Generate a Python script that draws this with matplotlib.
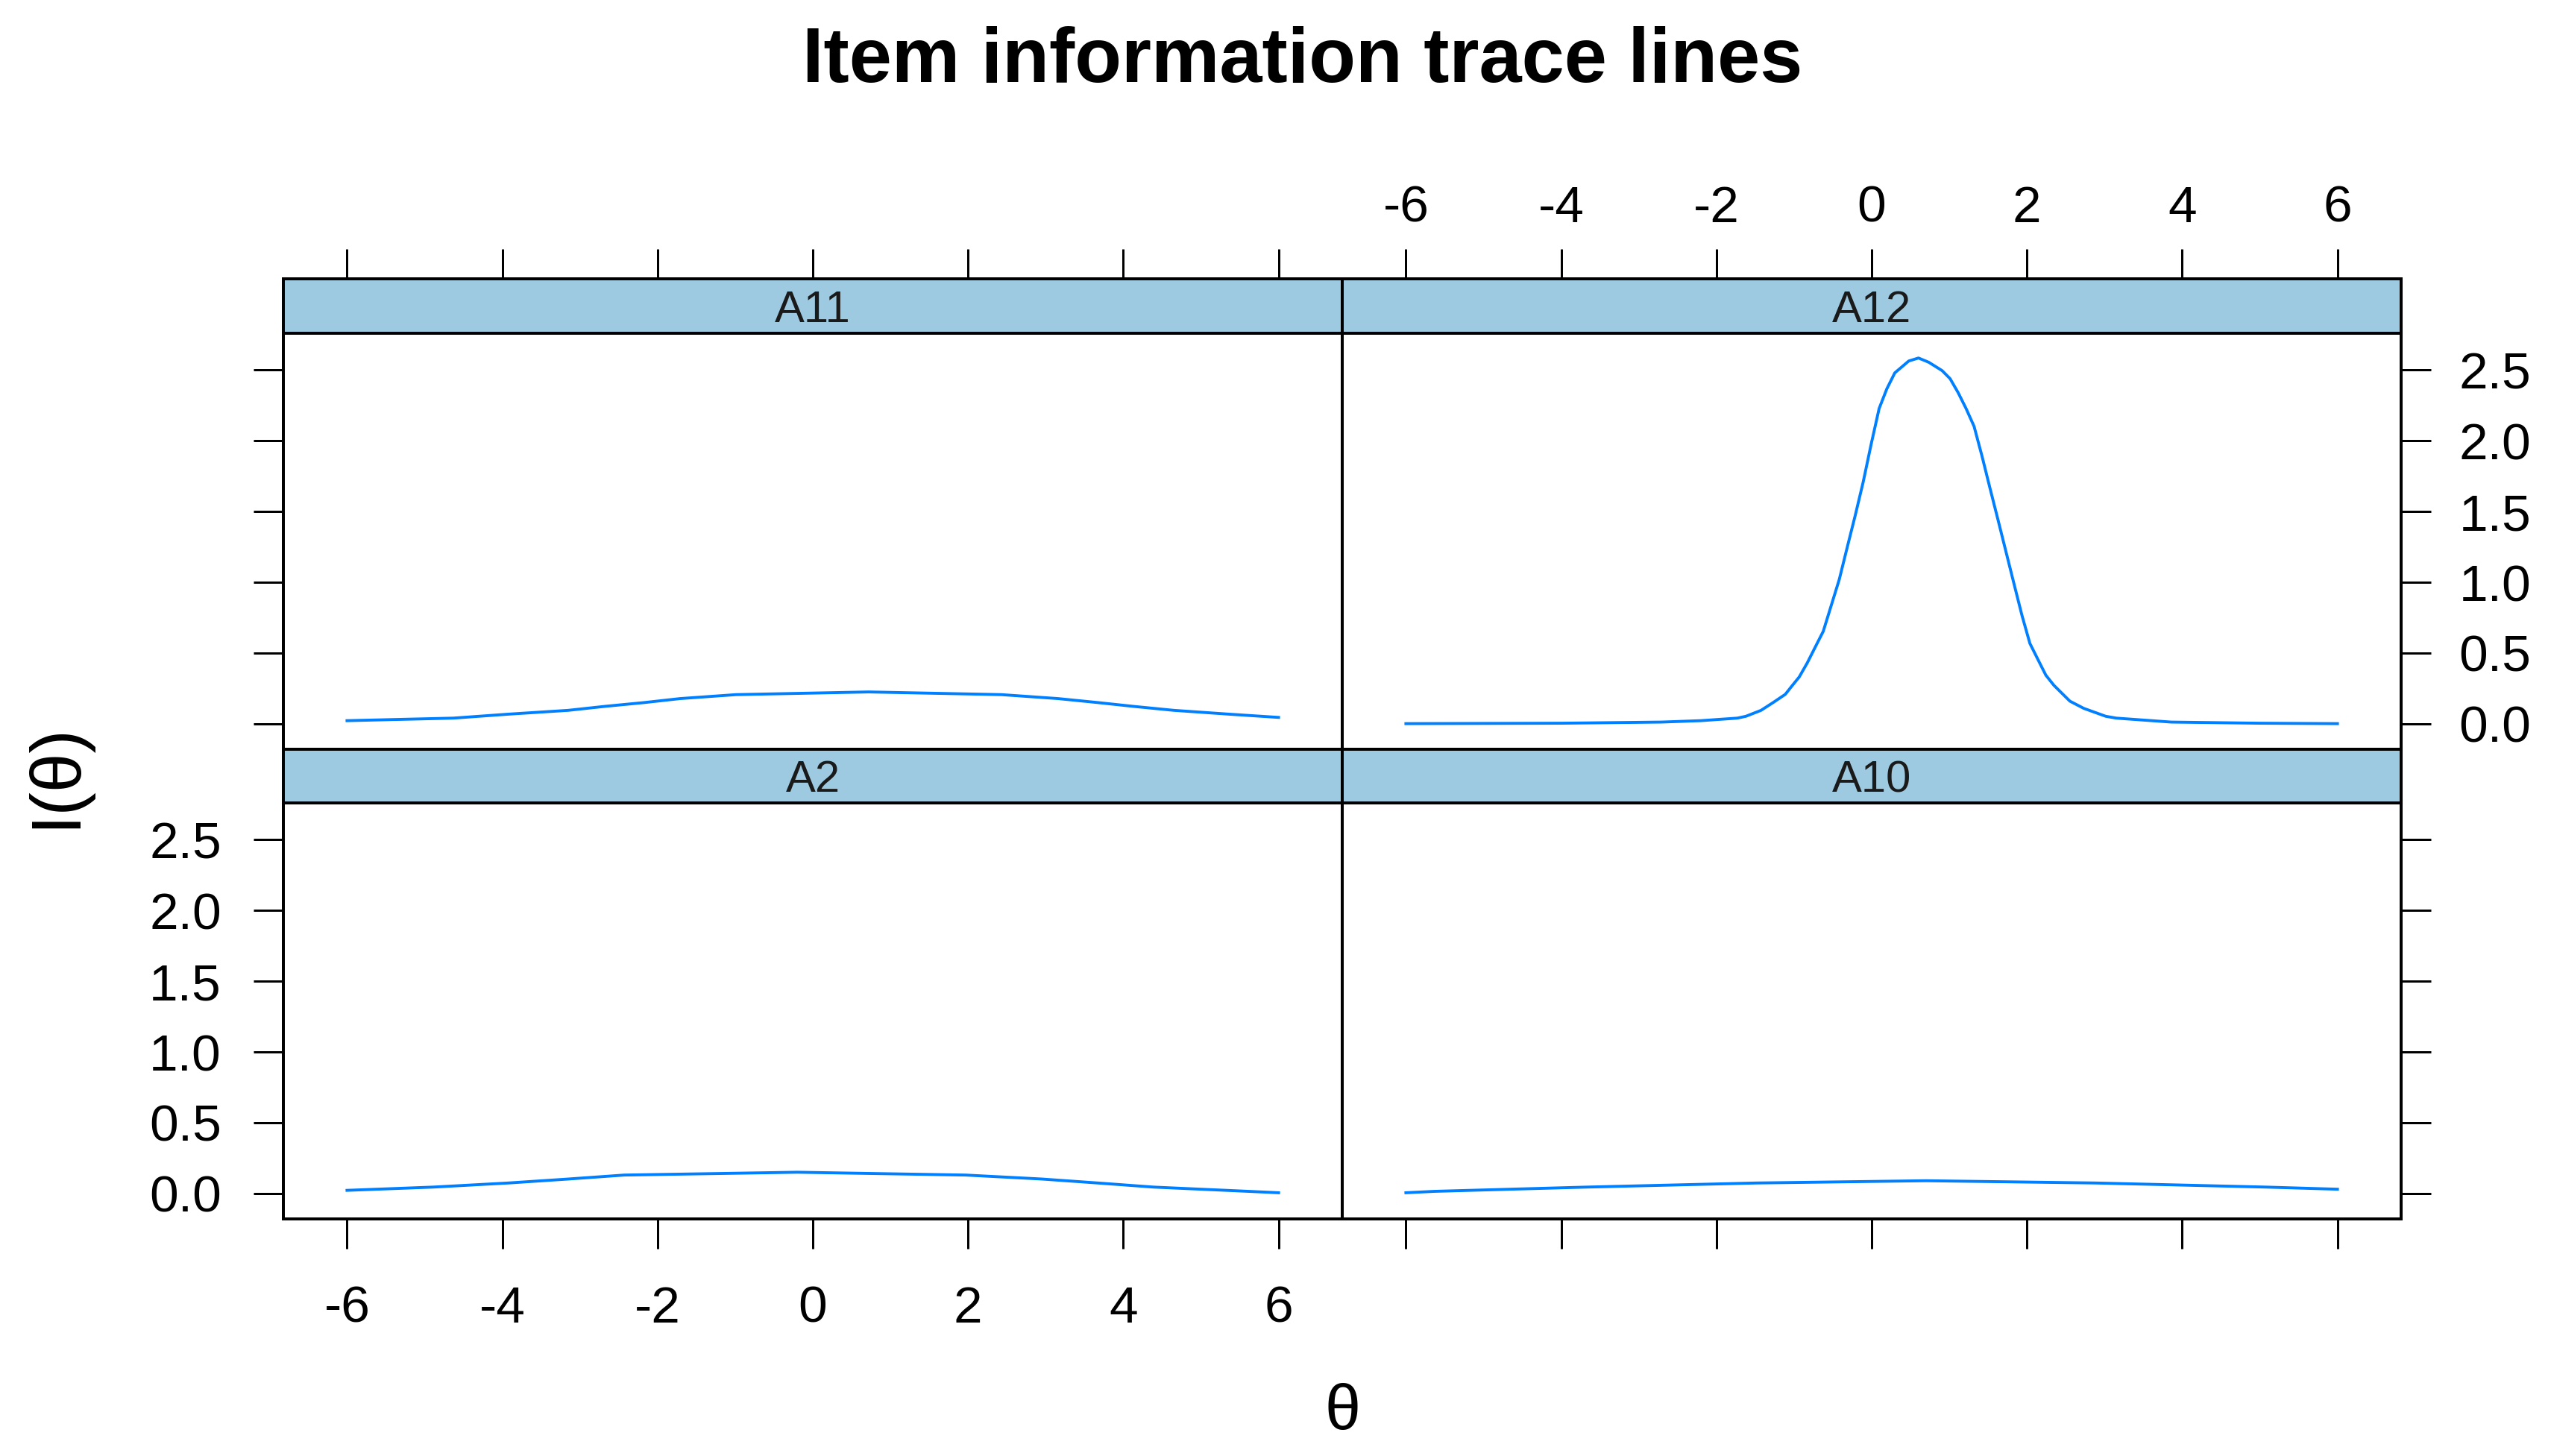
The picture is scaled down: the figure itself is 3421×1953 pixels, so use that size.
import matplotlib
matplotlib.use("Agg")
import matplotlib.pyplot as plt

plt.rcParams['font.family'] = ['Liberation Sans', 'DejaVu Sans']

# ---------------- data ----------------
panel_names = ["A11", "A12", "A2", "A10"]

theta_A11 = [-6.0, -4.63, -3.92, -3.15, -2.68, -2.17, -1.71, -0.99, 0.72, 2.43, 3.16, 3.67, 4.13, 4.65, 5.36, 6.0]
info_A11 = [0.022, 0.040, 0.068, 0.095, 0.123, 0.150, 0.178, 0.206, 0.225, 0.206, 0.178, 0.150, 0.123, 0.095, 0.068, 0.045]

theta_A12 = [-6.0, -4.0, -2.71, -2.2, -1.73, -1.62, -1.425, -1.267, -1.113, -1.035, -0.933, -0.830, -0.727,
             -0.624, -0.521, -0.418, -0.316, -0.213, -0.110, -0.007, 0.096, 0.195, 0.298, 0.478, 0.603, 0.735,
             0.907, 1.010, 1.113, 1.216, 1.319, 1.422, 1.524, 1.627, 1.730, 1.833, 1.936, 2.038, 2.141, 2.244,
             2.347, 2.450, 2.553, 2.732, 3.015, 3.15, 3.86, 5.0, 6.0]
info_A12 = [0.001, 0.004, 0.012, 0.022, 0.040, 0.053, 0.095, 0.151, 0.208, 0.262, 0.331, 0.430, 0.542,
            0.653, 0.836, 1.019, 1.245, 1.470, 1.707, 1.975, 2.228, 2.367, 2.480, 2.564, 2.585, 2.555,
            2.496, 2.439, 2.341, 2.228, 2.102, 1.890, 1.665, 1.442, 1.216, 0.990, 0.766, 0.568, 0.455, 0.343,
            0.272, 0.216, 0.160, 0.109, 0.053, 0.040, 0.012, 0.004, 0.001]

theta_A2 = [-6.0, -4.89, -3.92, -3.15, -2.43, -0.2, 1.97, 2.95, 3.67, 4.39, 5.61, 6.0]
info_A2 = [0.022, 0.045, 0.074, 0.102, 0.130, 0.150, 0.130, 0.102, 0.074, 0.045, 0.015, 0.005]

theta_A10 = [-6.0, -5.63, -3.67, -1.48, 0.7, 2.88, 5.08, 6.0]
info_A10 = [0.005, 0.015, 0.045, 0.074, 0.090, 0.074, 0.045, 0.030]

x_ticks = [-6, -4, -2, 0, 2, 4, 6]
y_ticks = [0.0, 0.5, 1.0, 1.5, 2.0, 2.5]
y_tick_labels = ["0.0", "0.5", "1.0", "1.5", "2.0", "2.5"]

title_text = "Item information trace lines"
x_label = "θ"
y_label = "I(θ)"

# ---------------- layout ----------------
W, H = 3421, 1953
DPI = 100
fig = plt.figure(figsize=(W / DPI, H / DPI), dpi=DPI)
fig.patch.set_facecolor("white")

PX = 72.0 / DPI  # points per pixel


def rect(x0, y0, x1, y1):
    return [x0 / W, 1 - y1 / H, (x1 - x0) / W, (y1 - y0) / H]


XL = (-6.82, 6.82)
YL = (-0.18, 2.76)
line_col = "#0080FF"
strip_col = "#9ECAE1"
border_lw = 4.0 * PX
tick_len = 40 * PX
tick_w = 3.0 * PX
fs_tick = 50
fs_strip = 43

cols = [(380, 1800), (1800, 3220)]
rows = [((374, 447), (447, 1005)), ((1005, 1077), (1077, 1635))]

data = {
    "A11": (theta_A11, info_A11),
    "A12": (theta_A12, info_A12),
    "A2": (theta_A2, info_A2),
    "A10": (theta_A10, info_A10),
}

for idx, name in enumerate(panel_names):
    r, c = divmod(idx, 2)
    (sy0, sy1), (py0, py1) = rows[r]
    x0, x1 = cols[c]

    ax = fig.add_axes(rect(x0, py0, x1, py1))
    th, val = data[name]
    ax.plot(th, val, color=line_col, lw=2.8)
    ax.set_xlim(*XL)
    ax.set_ylim(*YL)
    ax.set_xticks(x_ticks)
    ax.set_yticks(y_ticks)
    ax.set_yticklabels(y_tick_labels)
    ax.set_xticklabels([str(t) for t in x_ticks])
    for sp in ax.spines.values():
        sp.set_linewidth(border_lw)
        sp.set_color("black")
    ax.tick_params(axis="both", direction="out", length=tick_len, width=tick_w,
                   labelsize=fs_tick, colors="black")
    ax.tick_params(axis="x", top=False, labeltop=False, bottom=(r == 1),
                   labelbottom=(r == 1 and c == 0), pad=35)
    if c == 0:
        ax.tick_params(axis="y", left=True, labelleft=(r == 1), right=False,
                       labelright=False, pad=31)
    else:
        ax.yaxis.set_ticks_position("right")
        ax.tick_params(axis="y", left=False, labelleft=False, right=True,
                       labelright=(r == 0), pad=27)

    sax = fig.add_axes(rect(x0, sy0, x1, sy1))
    sax.set_facecolor(strip_col)
    sax.set_xlim(*XL)
    sax.set_ylim(0, 1)
    sax.set_yticks([])
    for sp in sax.spines.values():
        sp.set_linewidth(border_lw)
        sp.set_color("black")
    if r == 0:
        sax.xaxis.set_ticks_position("top")
        sax.set_xticks(x_ticks)
        sax.set_xticklabels([str(t) for t in x_ticks])
        sax.tick_params(axis="x", direction="out", length=tick_len, width=tick_w,
                        labelsize=fs_tick, top=True, bottom=False,
                        labeltop=(c == 1), labelbottom=False, pad=16)
    else:
        sax.set_xticks([])
    sax.text(0.5, 0.5, name, transform=sax.transAxes, ha="center",
             va="center_baseline", fontsize=fs_strip, color="#1a1a1a")

fig.text(1747 / W, 1 - 110 / H, title_text, ha="center", va="baseline",
         fontsize=74, fontweight="bold")
fig.text(1800 / W, 1 - 1895 / H, x_label, ha="center", va="center", fontsize=62)
fig.text(76 / W, 1 - 1040 / H, y_label, ha="center", va="center", fontsize=68,
         rotation=90)

fig.savefig("out.png", dpi=DPI)
